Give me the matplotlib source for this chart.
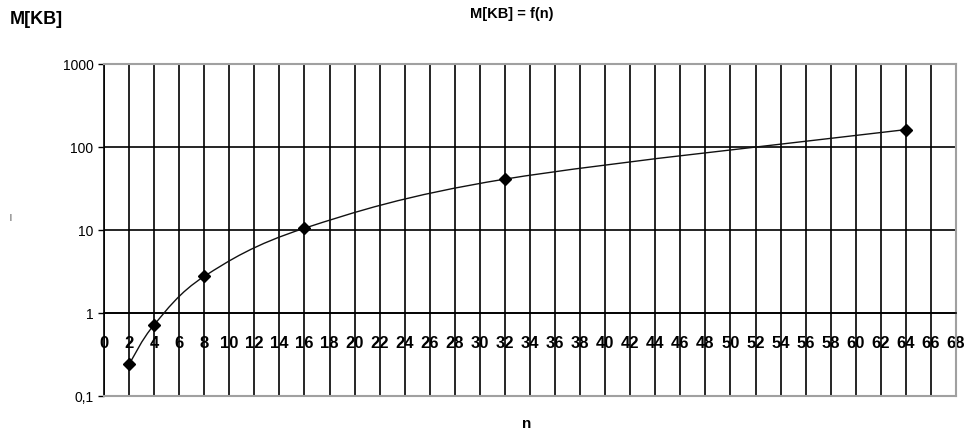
import numpy as np
import matplotlib
matplotlib.use("Agg")
import matplotlib.pyplot as plt
from matplotlib.path import Path
from matplotlib.patches import PathPatch
from matplotlib.ticker import FixedLocator, FixedFormatter, NullLocator

# data: memory in KB as a function of n
n_values = [2, 4, 8, 16, 32, 64]
mem_kb = [0.24, 0.72, 2.76, 10.5, 41, 162]

x_ticks = list(range(0, 69, 2))
y_ticks = [0.1, 1, 10, 100, 1000]
y_tick_labels = ["0,1", "1", "10", "100", "1000"]

plt.rcParams['font.family'] = ['Liberation Sans', 'DejaVu Sans']

fig = plt.figure(figsize=(9.7, 4.35), dpi=100)
ax = fig.add_axes([0.1072, 0.0874, 0.8784, 0.7632])

ax.set_yscale('log')
ax.set_xlim(0, 68)
ax.set_ylim(0.1, 1000)

# grid: every 2 on x, every decade on y
ax.xaxis.set_major_locator(FixedLocator(x_ticks))
ax.xaxis.set_major_formatter(FixedFormatter([str(t) for t in x_ticks]))
ax.yaxis.set_major_locator(FixedLocator(y_ticks))
ax.yaxis.set_major_formatter(FixedFormatter(y_tick_labels))
ax.yaxis.set_minor_locator(NullLocator())
ax.grid(True, which='major', color='black', linewidth=1.2)
ax.set_axisbelow(True)

# x axis crosses at y = 1
ax.spines['bottom'].set_position(('data', 1))
ax.spines['bottom'].set_color('black')
ax.spines['bottom'].set_linewidth(1.2)
ax.tick_params(axis='x', length=0, pad=16, labelsize=12)
ax.tick_params(axis='y', direction='out', length=4.5, width=1, pad=3, labelsize=10)
ax.spines['left'].set_color('black')
ax.spines['left'].set_linewidth(1.2)
for side in ['top', 'right']:
    ax.spines[side].set_color('#a0a0a0')
    ax.spines[side].set_linewidth(1.5)
ax.plot([0, 68], [0.1, 0.1], color='#a0a0a0', linewidth=1.5, clip_on=False, zorder=3)

# smoothed line (Catmull-Rom in x / log10(y) space)
px = np.array(n_values, dtype=float)
py = np.log10(mem_kb)
pts = np.column_stack([px, py])
verts = [pts[0]]
codes = [Path.MOVETO]
for i in range(len(pts) - 1):
    p0 = pts[i - 1] if i > 0 else pts[i]
    p1 = pts[i]
    p2 = pts[i + 1]
    p3 = pts[i + 2] if i + 2 < len(pts) else pts[i + 1]
    c1 = p1 + (p2 - p0) / 6.0
    c2 = p2 - (p3 - p1) / 6.0
    verts += [c1, c2, p2]
    codes += [Path.CURVE4] * 3
verts = np.array(verts)
verts[:, 1] = 10 ** verts[:, 1]
curve = PathPatch(Path(verts, codes), facecolor='none', edgecolor='#111111',
                  linewidth=1.0, zorder=4)
ax.add_patch(curve)

ax.plot(n_values, mem_kb, linestyle='none', marker='D', markersize=6.5,
        color='black', zorder=5)

fig.canvas.draw()
for lbl in ax.get_xticklabels():
    lbl.set_fontweight('bold')

fig.text(0.010, 0.956, "M[KB]", fontsize=13, fontweight='bold', va='center')
fig.text(0.528, 0.967, "M[KB] = f(n)", fontsize=10.5, fontweight='bold',
         ha='center', va='center')
fig.text(0.543, 0.025, "n", fontsize=11, fontweight='bold', ha='center', va='center')
fig.text(0.011, 0.501, "|", fontsize=5, ha='center', va='center')

fig.savefig("out.png", dpi=100)
